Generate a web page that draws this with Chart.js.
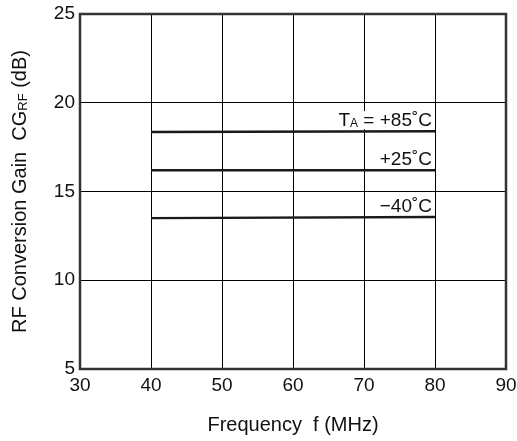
<!DOCTYPE html>
<html>
<head>
<meta charset="utf-8">
<script src="https://cdn.jsdelivr.net/npm/chart.js"></script>
<style>
  html, body { margin: 0; padding: 0; background: #fff; }
  #wrap { width: 517px; height: 441px; position: relative; }
</style>
</head>
<body>
<div id="wrap"><canvas id="chart"></canvas></div>
<script>
// values
const frequency = [40, 80];
const gainHot = [18.35, 18.4];    // TA = +85˚C
const gainRoom = [16.2, 16.2];    // +25˚C
const gainCold = [13.5, 13.57];   // -40˚C
const xTicks = [30, 40, 50, 60, 70, 80, 90];
const yTicks = [5, 10, 15, 20, 25];

const FONT = '"Liberation Sans", Arial, sans-serif';

function toPoints(ys) {
    return frequency.map((f, i) => ({ x: f, y: ys[i] }));
}

function partsWidth(ctx, parts, size) {
    let w = 0;
    parts.forEach(([t, sub]) => {
        ctx.font = `${sub ? Math.round(size * 0.65) : size}px ${FONT}`;
        w += ctx.measureText(t).width;
    });
    return w;
}

// draws text made of [text, isSubscript] parts
function drawParts(ctx, parts, x, y, size, align) {
    const total = partsWidth(ctx, parts, size);
    let cx = align === 'right' ? x - total : align === 'center' ? x - total / 2 : x;
    parts.forEach(([t, sub]) => {
        ctx.font = `${sub ? Math.round(size * 0.65) : size}px ${FONT}`;
        ctx.fillText(t, cx, sub ? y + 1 : y);
        cx += ctx.measureText(t).width;
    });
}

const curveLabels = [
    { parts: [['T', false], ['A', true], [' = +85˚C', false]], series: gainHot },
    { parts: [['+25˚C', false]], series: gainRoom },
    { parts: [['\u221240˚C', false]], series: gainCold }
];

const decorPlugin = {
    id: 'decor',
    afterDatasetsDraw(chart) {
        const { ctx, chartArea: a, scales } = chart;
        ctx.save();
        ctx.textBaseline = 'alphabetic';

        // curve labels, right aligned at the end of each line
        curveLabels.forEach(lbl => {
            const last = frequency.length - 1;
            const x = scales.x.getPixelForValue(frequency[last]) - 3;
            const y = scales.y.getPixelForValue(lbl.series[last]) - 5;
            const w = partsWidth(ctx, lbl.parts, 19);
            ctx.fillStyle = '#fff';
            ctx.fillRect(x - w - 2, y - 15, w + 3, 18);
            ctx.fillStyle = '#111';
            drawParts(ctx, lbl.parts, x, y, 19, 'right');
        });

        // plot frame
        ctx.strokeStyle = '#333';
        ctx.lineWidth = 2.5;
        ctx.strokeRect(a.left, a.top, a.right - a.left, a.bottom - a.top);

        // axis titles
        ctx.fillStyle = '#111';
        drawParts(ctx, [['Frequency  f (MHz)', false]], (a.left + a.right) / 2, 431, 20, 'center');
        ctx.translate(26, (a.top + a.bottom) / 2);
        ctx.rotate(-Math.PI / 2);
        drawParts(ctx, [['RF Conversion Gain  CG', false], ['RF', true], [' (dB)', false]], 0, 0, 20, 'center');
        ctx.restore();
    }
};

const lineStyle = {
    borderColor: '#1a1a1a',
    borderWidth: 2.5,
    pointRadius: 0,
    fill: false,
    tension: 0
};

new Chart(document.getElementById('chart'), {
    type: 'line',
    data: {
        datasets: [
            { label: '+85', data: toPoints(gainHot), ...lineStyle },
            { label: '+25', data: toPoints(gainRoom), ...lineStyle },
            { label: '-40', data: toPoints(gainCold), ...lineStyle }
        ]
    },
    options: {
        responsive: true,
        maintainAspectRatio: false,
        animation: false,
        layout: { padding: { top: 14, right: 11, left: 0, bottom: 0 } },
        plugins: { legend: { display: false }, tooltip: { enabled: false } },
        scales: {
            x: {
                type: 'linear',
                min: xTicks[0],
                max: xTicks[xTicks.length - 1],
                afterBuildTicks: s => { s.ticks = xTicks.map(v => ({ value: v })); },
                afterFit: s => { s.height = 72; s.paddingLeft = 0; s.paddingRight = 0; },
                grid: { color: '#000', lineWidth: 1, drawTicks: false },
                border: { display: false },
                ticks: { color: '#111', font: { family: FONT, size: 19 }, padding: 5, maxRotation: 0 }
            },
            y: {
                type: 'linear',
                min: yTicks[0],
                max: yTicks[yTicks.length - 1],
                afterBuildTicks: s => { s.ticks = yTicks.map(v => ({ value: v })); },
                afterFit: s => { s.width = 80; s.paddingTop = 0; s.paddingBottom = 0; },
                grid: { color: '#000', lineWidth: 1, drawTicks: false },
                border: { display: false },
                ticks: { color: '#111', font: { family: FONT, size: 19 }, padding: 5 }
            }
        }
    },
    plugins: [decorPlugin]
});
</script>
</body>
</html>
